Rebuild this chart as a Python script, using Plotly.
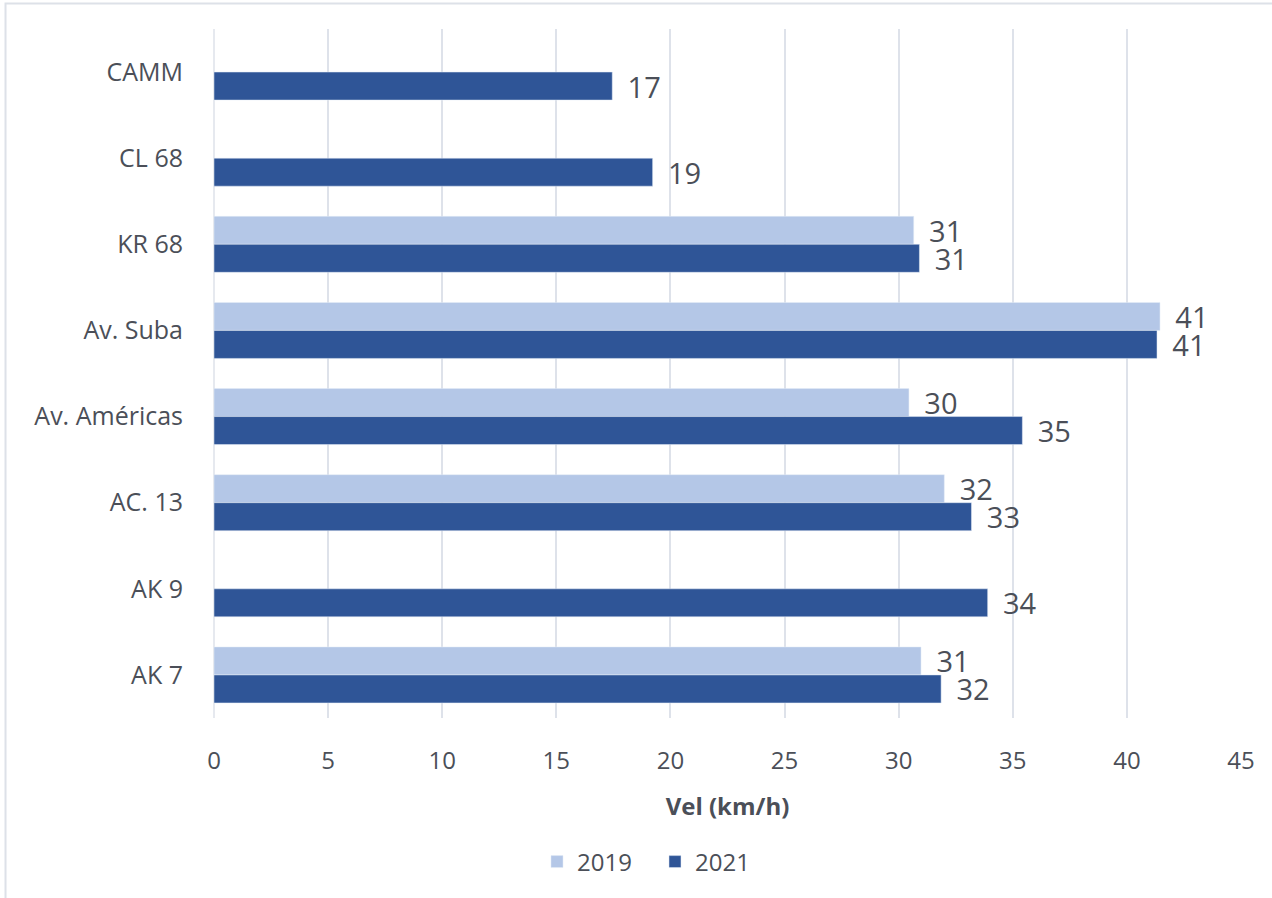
import plotly.graph_objects as go

categories = ["CAMM", "CL 68", "KR 68", "Av. Suba", "Av. Américas", "AC. 13", "AK 9", "AK 7"]
vel_2019 = [None, None, 30.66, 41.45, 30.45, 32.0, None, 30.98]
vel_2021 = [17.45, 19.22, 30.91, 41.32, 35.42, 33.19, 33.9, 31.86]
x_ticks = [0, 5, 10, 15, 20, 25, 30, 35, 40, 45]

TXT = "#4b4f58"
FONT = "Open Sans"

fig = go.Figure()
fig.add_trace(go.Bar(
    name="2019", y=categories, x=vel_2019, orientation="h",
    marker=dict(color="#B4C7E7"),
    texttemplate=" \u2009%{x:.0f}", textposition="outside", constraintext="none",
    cliponaxis=False,
    outsidetextfont=dict(family=FONT, size=29, color=TXT),
))
fig.add_trace(go.Bar(
    name="2021", y=categories, x=vel_2021, orientation="h",
    marker=dict(color="#2F5597"),
    texttemplate=" \u2009%{x:.0f}", textposition="outside", constraintext="none",
    cliponaxis=False,
    outsidetextfont=dict(family=FONT, size=29, color=TXT),
))

fig.update_layout(
    width=1272, height=898,
    margin=dict(l=214, r=31, t=29, b=180),
    paper_bgcolor="white", plot_bgcolor="white",
    barmode="group", bargap=0.35, bargroupgap=0,
    font=dict(family=FONT, color=TXT),
    showlegend=True,
    legend=dict(orientation="h", x=0.3145, xanchor="left", y=-0.209, yanchor="middle",
                font=dict(family=FONT, size=24, color=TXT), itemwidth=30,
                entrywidth=73, entrywidthmode="pixels"),
    xaxis=dict(range=[0, 45], tickvals=x_ticks, showgrid=True, gridcolor="#DEE2EA", gridwidth=1.5,
               zeroline=False, showline=False, ticks="", ticklabelstandoff=26,
               tickfont=dict(family=FONT, size=24, color=TXT),
               title=dict(text="<b>Vel (km/h)</b>", font=dict(family=FONT, size=24, color=TXT), standoff=23)),
    yaxis=dict(categoryorder="array", categoryarray=categories, autorange="reversed",
               showgrid=False, zeroline=False, showline=False, ticks="", ticklabelstandoff=30,
               tickfont=dict(family=FONT, size=25, color=TXT)),
    shapes=[dict(type="rect", xref="paper", yref="paper", x0=-0.2030, x1=1.2, y0=-0.5, y1=1.0370,
                 line=dict(color="#DDE1E8", width=2), fillcolor="rgba(0,0,0,0)", layer="below")],
)
fig.add_shape(type="line", xref="paper", yref="paper", x0=0, x1=0, y0=0, y1=1,
              line=dict(color="#DEE2EA", width=1.5), layer="below")

fig.write_html("out.html")
